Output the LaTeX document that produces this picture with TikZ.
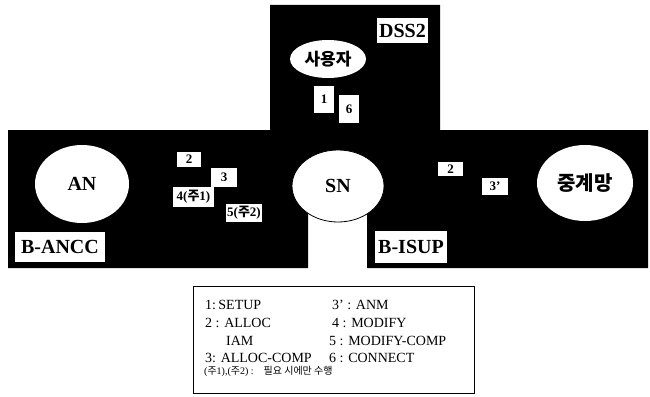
\documentclass[tikz,border=0pt]{standalone}
\usepackage{fontspec}
\setmainfont{Liberation Serif}
\newfontfamily\kr{Noto Sans CJK KR}
\usetikzlibrary{shapes.geometric}
\tikzset{
  lbl/.style={fill=white, inner sep=0pt, font=\bfseries\fontsize{13}{13}\selectfont},
  big/.style={fill=white, inner sep=0pt, font=\bfseries\fontsize{20}{20}\selectfont},
  oval/.style={ellipse, fill=white, inner sep=0pt, font=\bfseries\fontsize{20}{20}\selectfont},
  leg/.style={anchor=west, inner sep=0pt, font=\fontsize{14}{14}\selectfont},
}
\begin{document}
\begin{tikzpicture}[x=1pt,y=-1pt]
\useasboundingbox (0,0) rectangle (650,396);
% black network area
\fill[black] (8,130) -- (270,130) -- (270,5) -- (440,5) -- (440,130) -- (648,130)
  -- (648,268) -- (367,268) -- (367,186) -- (308,186) -- (308,268) -- (8,268) -- cycle;
% network elements
\node[oval, minimum width=94pt, minimum height=78pt] (an) at (82,184) {AN};
\node[oval, draw=black, line width=0.8pt, minimum width=92pt, minimum height=72pt] (sn) at (338,186) {SN};
\node[oval, minimum width=96pt, minimum height=76pt, font=\kr\bfseries\fontsize{20}{20}\selectfont] (relay) at (585,183) {중계망};
\node[oval, minimum width=76pt, minimum height=38pt, font=\kr\bfseries\fontsize{17}{17}\selectfont] (user) at (328,59) {사용자};
% interface labels
\node[big, minimum width=51pt, minimum height=25pt] (dss) at (402.5,30.5) {DSS2};
\node[big, minimum width=90pt, minimum height=30pt] (ancc) at (60,247) {B-ANCC};
\node[big, minimum width=72pt, minimum height=32pt] (isup) at (411,247) {B-ISUP};
% message number boxes
\node[lbl, minimum width=24pt, minimum height=15pt] (m2a) at (189,159.5) {2};
\node[lbl, minimum width=26pt, minimum height=19pt] (m3) at (224,177.5) {3};
\node[lbl, minimum width=41pt, minimum height=20pt] (m4) at (193.5,197) {4({\kr 주}1)};
\node[lbl, minimum width=36pt, minimum height=18pt] (m5) at (244,213) {5({\kr 주}2)};
\node[lbl, minimum width=25pt, minimum height=14pt] (m2b) at (450.5,169) {2};
\node[lbl, minimum width=26pt, minimum height=17pt] (m3p) at (495,186.5) {3'};
\node[lbl, minimum width=20pt, minimum height=27pt] (m1) at (324,99.5) {1};
\node[lbl, minimum width=20pt, minimum height=28pt] (m6) at (349,109) {6};
% legend
\node[draw=black, line width=0.8pt, minimum width=281pt, minimum height=107pt, inner sep=0pt] (legend) at (333.5,339.5) {};
\node[leg] (l1) at (205,305) {1:\,SETUP};
\node[leg] (l2) at (205,323) {2 : ALLOC};
\node[leg] (l2b) at (226,341) {IAM};
\node[leg] (l3) at (205,358) {3: ALLOC-COMP};
\node[leg] (r1) at (332,305) {3' : ANM};
\node[leg] (r2) at (332,323) {4 : MODIFY};
\node[leg] (r3) at (329,341) {5 : MODIFY-COMP};
\node[leg] (r4) at (329,358) {6 : CONNECT};
\node[anchor=west, inner sep=0pt, font=\fontsize{10}{10}\selectfont] (note) at (204,371) {({\kr 주}1),({\kr 주}2) :\hspace{10pt}{\kr 필요\ 시에만\ 수행}};
\end{tikzpicture}
\end{document}
